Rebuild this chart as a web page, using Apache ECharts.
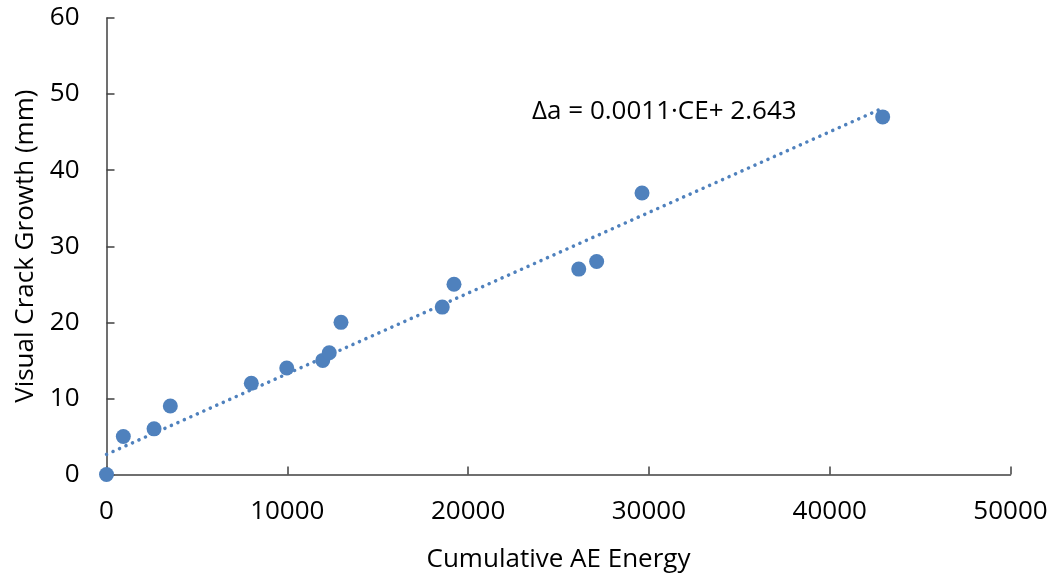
<!DOCTYPE html>
<html>
<head>
<meta charset="utf-8">
<script src="https://cdn.jsdelivr.net/npm/echarts@6/dist/echarts.min.js"></script>
<style>
html,body{margin:0;padding:0;background:#fff;}
#chart{width:1058px;height:578px;}
</style>
</head>
<body>
<div id="chart"></div>
<script>
// Data
const aeEnergy    = [0, 930, 2630, 3530, 8010, 9970, 11960, 12320, 12970, 18570, 19220, 26120, 27110, 29620, 42930];
const crackGrowth = [0, 5, 6, 9, 12, 14, 15, 16, 20, 22, 25, 27, 28, 37, 47];
// trendline as drawn (equation label shows slope rounded to 0.0011)
const trendSlope = 0.00106;
const trendIntercept = 2.643;
const equationText = 'Δa = 0.0011·CE+ 2.643';
const xAxisName = 'Cumulative AE Energy';
const yAxisName = 'Visual Crack Growth (mm)';

const points = aeEnergy.map((x, i) => [x, crackGrowth[i]]);
const xMax = Math.max(...aeEnergy);
const trend = [0, xMax].map(x => [x, trendSlope * x + trendIntercept]);

const blue = '#4F81BD';
const axisColor = '#404040';
const font = '"Open Sans", sans-serif';
const fs = 26;

const chart = echarts.init(document.getElementById('chart'));
chart.setOption({
  animation: false,
  backgroundColor: '#fff',
  grid: { left: 106.5, right: 47.5, top: 18, bottom: 103.5 },
  xAxis: {
    type: 'value', min: 0, max: 50000, interval: 10000,
    name: xAxisName, nameLocation: 'middle', nameGap: 72,
    nameTextStyle: { fontFamily: font, fontSize: fs, color: '#000' },
    axisLine: { show: true, onZero: false, lineStyle: { color: axisColor, width: 1.5 } },
    axisTick: { show: true, inside: true, length: 8, lineStyle: { color: axisColor, width: 1.5 } },
    axisLabel: { fontFamily: font, fontSize: fs, color: '#000', margin: 24, formatter: v => String(v) },
    splitLine: { show: false }
  },
  yAxis: {
    type: 'value', min: 0, max: 60, interval: 10,
    name: yAxisName, nameLocation: 'middle', nameGap: 68,
    nameTextStyle: { fontFamily: font, fontSize: fs, color: '#000' },
    axisLine: { show: true, onZero: false, lineStyle: { color: axisColor, width: 1.5 } },
    axisTick: { show: true, inside: true, length: 8, lineStyle: { color: axisColor, width: 1.5 } },
    axisLabel: { fontFamily: font, fontSize: fs, color: '#000', margin: 27 },
    splitLine: { show: false }
  },
  series: [
    {
      type: 'line', data: trend, symbol: 'none', z: 1,
      lineStyle: { color: blue, width: 3.5, type: [0.1, 7], cap: 'round' }
    },
    {
      type: 'scatter', data: points, symbol: 'circle', symbolSize: 15, z: 2,
      itemStyle: { color: blue, opacity: 1 }
    }
  ],
  graphic: [{
    type: 'text', left: 532, top: 99,
    style: { text: equationText, font: fs + 'px "Open Sans", sans-serif', fill: '#000' }
  }]
});
</script>
</body>
</html>
